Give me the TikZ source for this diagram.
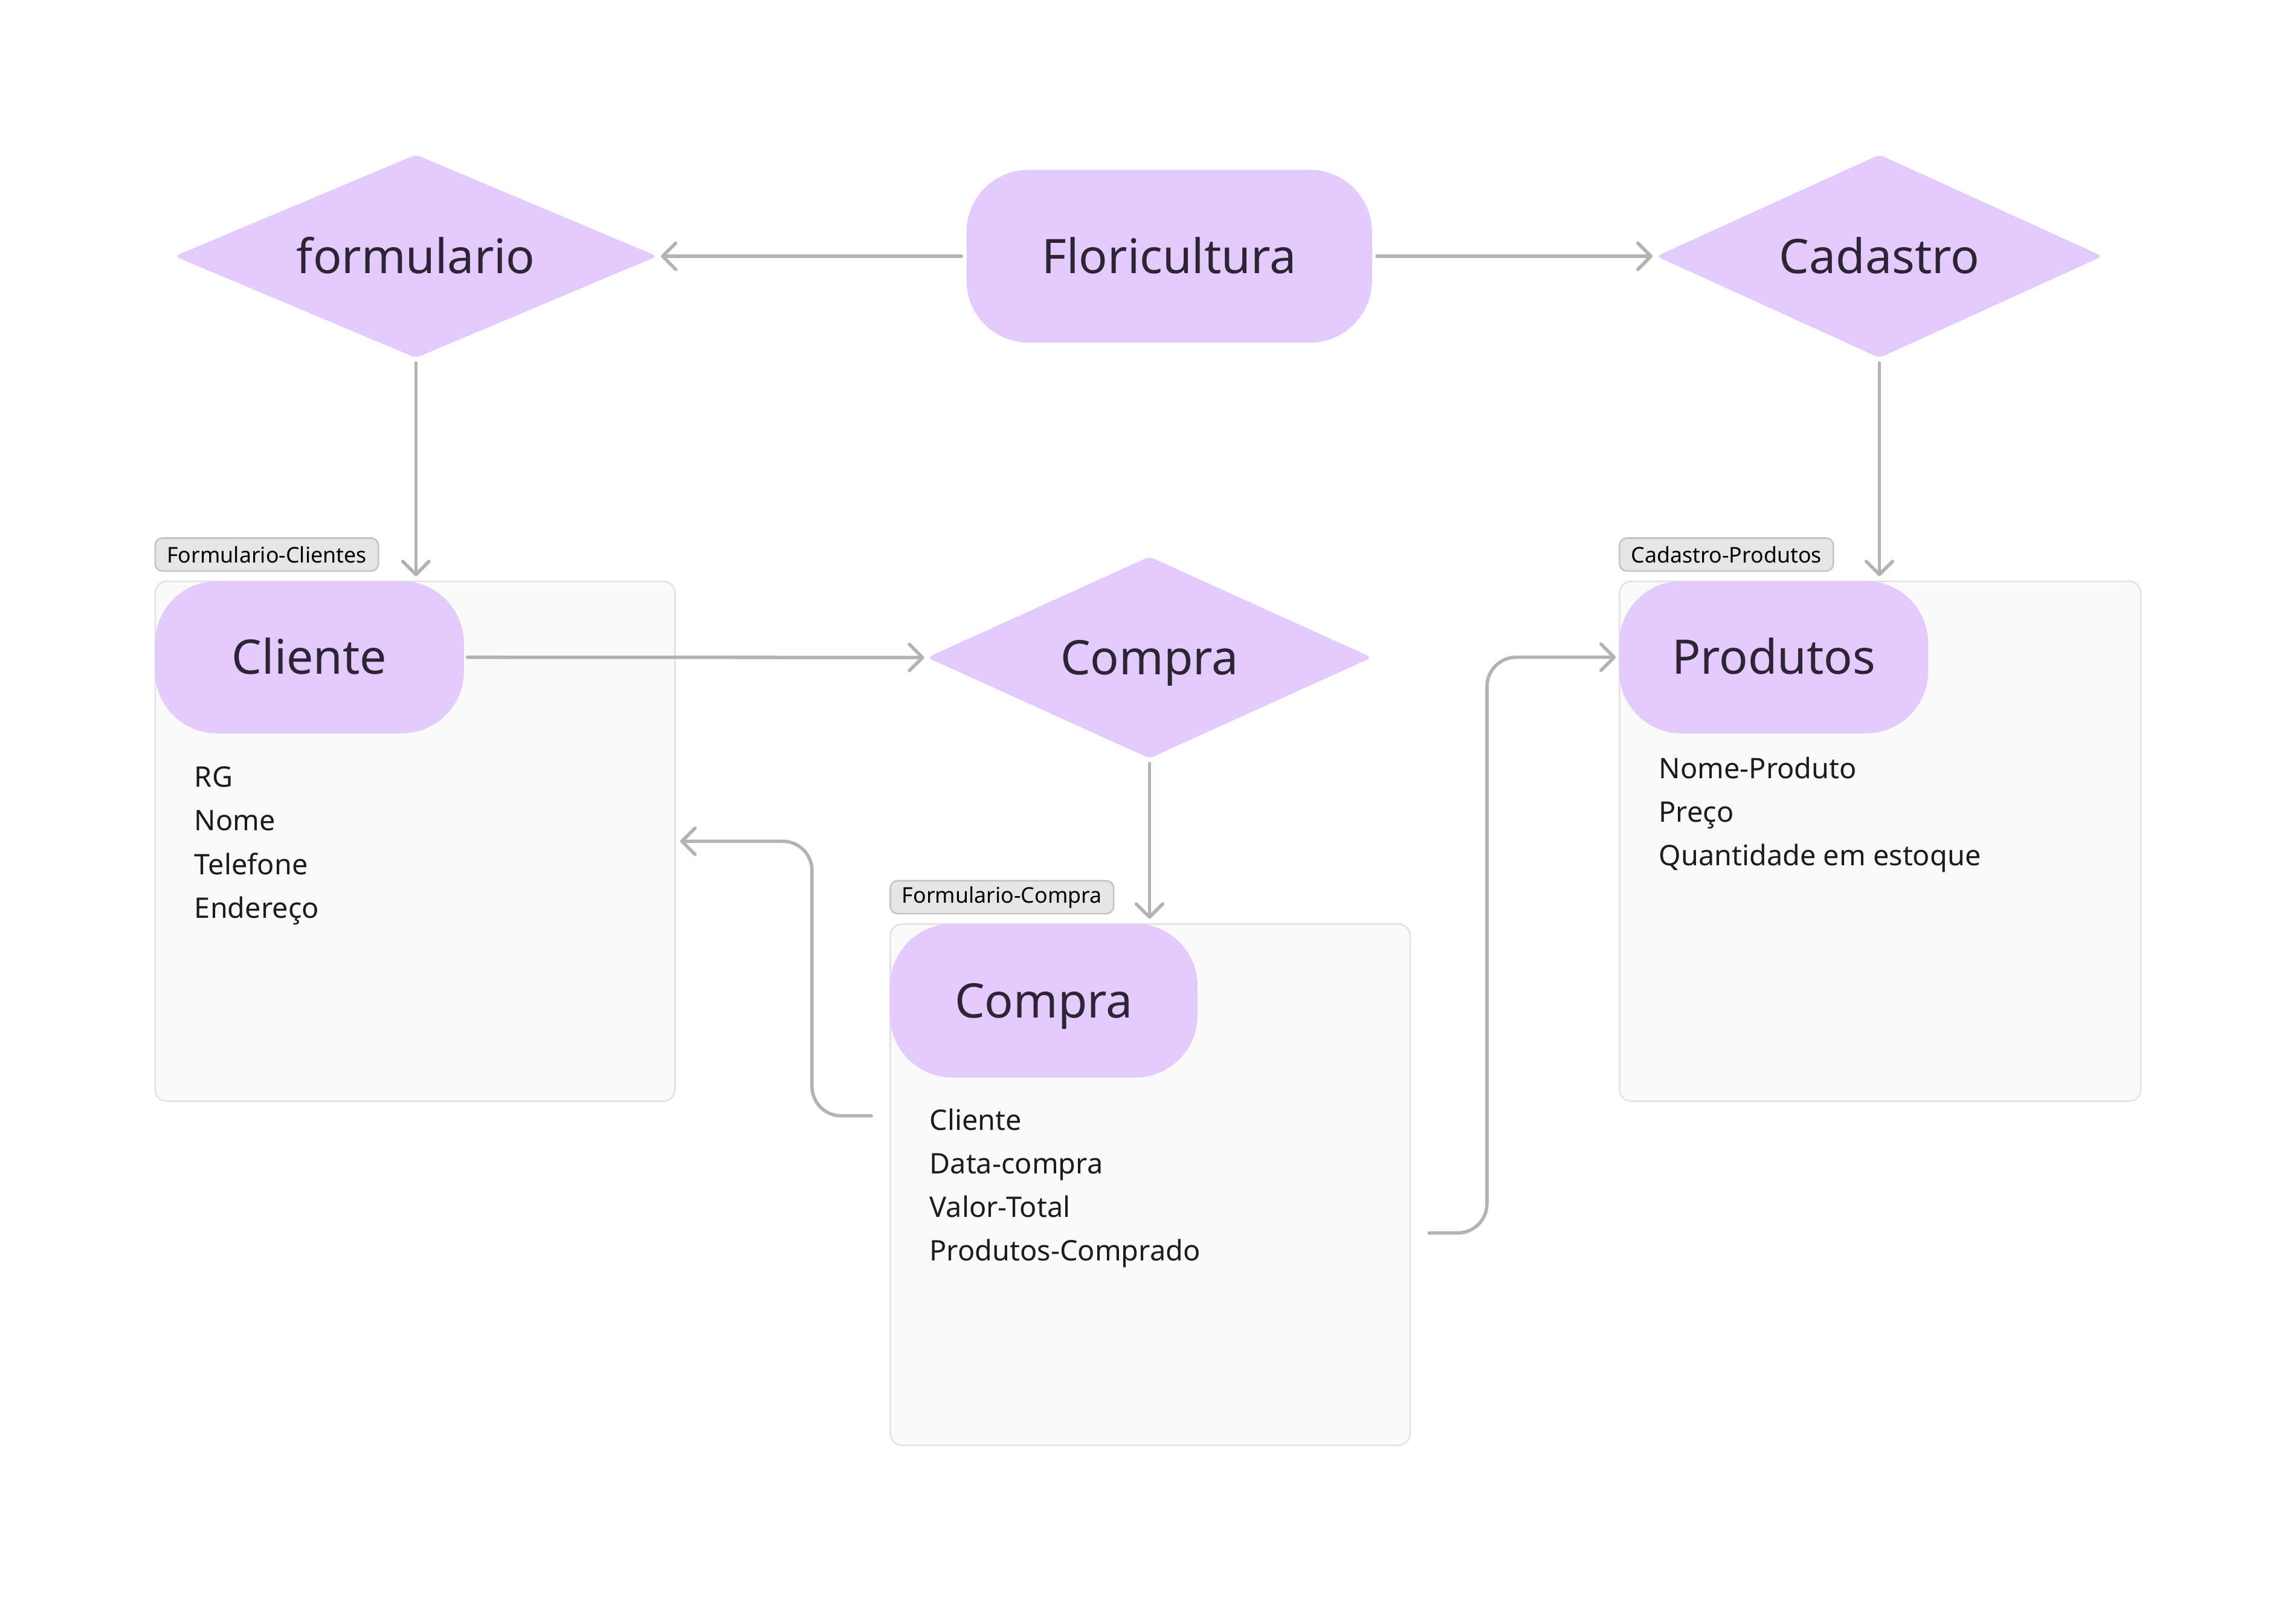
\documentclass[tikz,border=0pt]{standalone}
\usepackage{fontspec}
\setmainfont{Noto Sans}
\usetikzlibrary{arrows.meta, positioning, shapes.geometric}
\definecolor{lilac}{RGB}{227,204,253}
\definecolor{linkgray}{RGB}{179,179,179}
\definecolor{boxfill}{RGB}{250,250,250}
\definecolor{boxline}{RGB}{226,226,226}
\definecolor{tagfill}{RGB}{230,230,230}
\definecolor{tagline}{RGB}{196,196,196}
\definecolor{inkdark}{RGB}{45,37,54}
\definecolor{inkattr}{RGB}{28,28,28}

\tikzset{
  bigtext/.style={text=inkdark, font=\fontsize{18.5}{22}\selectfont, text height=13.2pt, text depth=0pt},
  entity/.style={bigtext, fill=lilac, rounded corners=0.85cm, inner sep=0,
    minimum width=4.22cm, minimum height=2.08cm},
  rel/.style={bigtext, diamond, fill=lilac, inner sep=0, aspect=2.2, rounded corners=2pt},
  group/.style={draw=boxline, fill=boxfill, line width=0.6pt, rounded corners=0.16cm,
    inner sep=0, minimum width=7.1cm, minimum height=7.1cm},
  tag/.style={draw=tagline, fill=tagfill, line width=0.6pt, rounded corners=0.1cm,
    inner xsep=0.16cm, inner ysep=0, minimum height=0.45cm, anchor=south west,
    font=\fontsize{8.4}{10}\selectfont},
  attr/.style={anchor=base west, inner sep=0, text=inkattr, font=\fontsize{11}{13}\selectfont},
  link/.style={draw=linkgray, line width=1.3pt, line cap=round, rounded corners=0.4cm,
    -{Straight Barb[length=0.18cm, width=0.36cm, round]}},
}

\begin{document}
\begin{tikzpicture}
  \useasboundingbox (0,0) rectangle (31.36,-21.85);

  % top row
  \node[entity, minimum width=5.54cm, minimum height=2.36cm] (flori) at (15.97,-3.5) {Floricultura};
  \node[rel, minimum width=6.6cm, minimum height=2.78cm] (form) at (5.68,-3.5) {formulario};
  \node[rel, minimum width=6.1cm, minimum height=2.78cm] (cad) at (25.67,-3.5) {Cadastro};

  % groups with their tags
  \node[group] (cliBox) at (5.67,-11.49) {};
  \node[group, minimum height=7.12cm] (compraBox) at (15.71,-16.18) {};
  \node[group, minimum width=7.12cm] (prodBox) at (25.68,-11.49) {};
  \node[tag] (cliTag) at ([yshift=0.12cm]cliBox.north west) {Formulario-Clientes};
  \node[tag] (compraTag) at ([yshift=0.12cm]compraBox.north west) {Formulario-Compra};
  \node[tag] (prodTag) at ([yshift=0.12cm]prodBox.north west) {Cadastro-Produtos};

  % entities
  \node[entity, anchor=north west] (cliente) at (cliBox.north west) {Cliente};
  \node[entity, anchor=north west, minimum width=4.2cm, minimum height=2.1cm] (compra) at (compraBox.north west) {Compra};
  \node[entity, anchor=north west] (produto) at (prodBox.north west) {Produtos};
  \node[rel, minimum width=6.08cm, minimum height=2.76cm] (compraRel) at (15.7,-8.98) {Compra};

  % attributes
  \foreach \t [count=\i] in {RG, Nome, Telefone, Endereço}
    \node[attr] (cliAttr\i) at (2.65,{-10.75-0.597*(\i-1)}) {\t};
  \foreach \t [count=\i] in {Cliente, Data-compra, Valor-Total, Produtos-Comprado}
    \node[attr] (compraAttr\i) at (12.69,{-15.44-0.593*(\i-1)}) {\t};
  \foreach \t [count=\i] in {Nome-Produto, Preço, Quantidade em estoque}
    \node[attr] (prodAttr\i) at (22.65,{-10.63-0.595*(\i-1)}) {\t};

  % connectors
  \coordinate (outLeft) at (11.9,-15.24);
  \coordinate (outRight) at (19.52,-16.84);
  \draw[link, shorten <=0.06cm, shorten >=0.04cm] (flori) -- (form);
  \draw[link, shorten <=0.06cm, shorten >=0.04cm] (flori) -- (cad);
  \draw[link, shorten <=0.06cm, shorten >=0.06cm] (form.south) -- (form.south |- cliBox.north);
  \draw[link, shorten <=0.06cm, shorten >=0.06cm] (cad.south) -- (cad.south |- prodBox.north);
  \draw[link, shorten <=0.04cm, shorten >=0.03cm] (cliente.east) -- (compraRel.west);
  \draw[link, shorten <=0.06cm, shorten >=0.06cm] (compraRel.south) -- (compraRel.south |- compraBox.north);
  \draw[link, shorten >=0.06cm] (outLeft) -| ([xshift=1.86cm]cliBox.east) -- (cliBox.east);
  \draw[link, shorten >=0.04cm] (outRight) -| ([xshift=-1.8cm]produto.west) -- (produto.west);
\end{tikzpicture}
\end{document}
